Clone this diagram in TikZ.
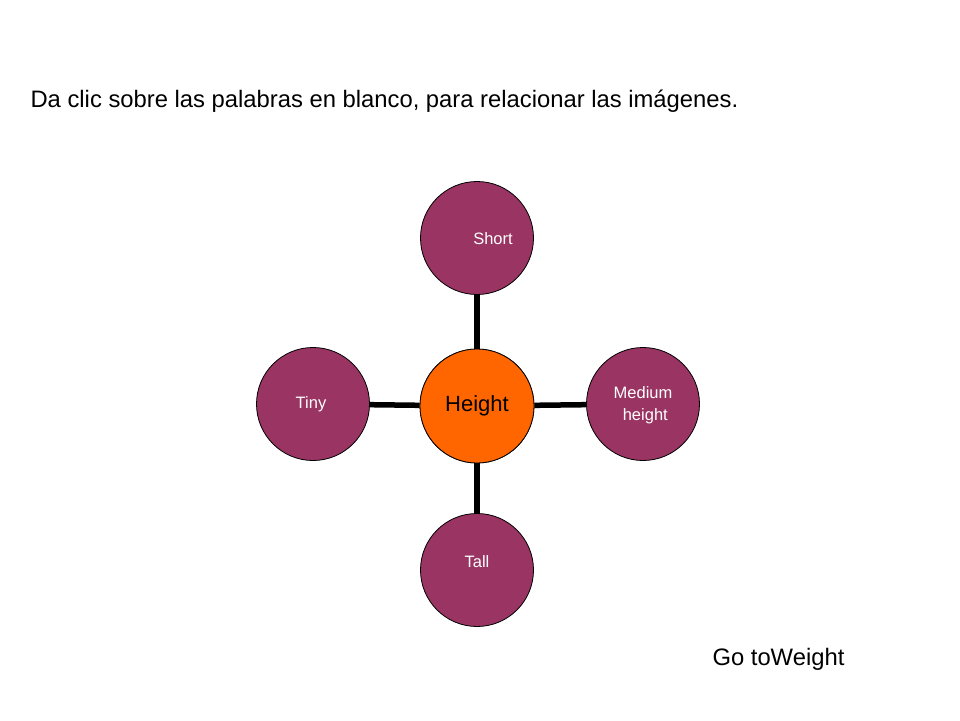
\documentclass[tikz,border=0pt]{standalone}
\usepackage{fontspec}
\setmainfont{Liberation Sans}
\begin{document}
\begin{tikzpicture}[x=1pt,y=-1pt,
  leaf/.style={circle,draw=black,line width=0.8pt,fill=purp,minimum size=113pt,inner sep=0pt},
  hub/.style={circle,draw=black,line width=0.8pt,fill=orng,minimum size=114pt,inner sep=0pt,font=\fontsize{22}{24}\selectfont},
  lbl/.style={text=white,font=\fontsize{16.5}{22}\selectfont,align=center},
  link/.style={line width=5.5pt,black}]
\definecolor{purp}{HTML}{993463}
\definecolor{orng}{HTML}{FF6600}
\useasboundingbox (0,0) rectangle (960,720);
\node[anchor=west,font=\fontsize{23.8}{28}\selectfont] (title) at (27,101) {Da clic sobre las palabras en blanco, para relacionar las imágenes.};
\node[leaf] (short) at (477,238) {};
\node[leaf] (tiny) at (313,404) {};
\node[leaf] (med) at (643,404) {};
\node[leaf] (tall) at (477,570) {};
\node[hub] (hub) at (477,406) {};
\draw[link] (hub) -- (short);
\draw[link] (hub) -- (tiny);
\draw[link] (hub) -- (med);
\draw[link] (hub) -- (tall);
\node[hub] at (hub) {Height};
\node[lbl] (shortt) at (493,239) {Short};
\node[lbl] (tinyt) at (311,404) {Tiny};
\node[lbl] (medt) at (643,405) {Medium\\\ height};
\node[lbl] (tallt) at (477,562) {Tall};
\node[anchor=west,font=\fontsize{23.8}{28}\selectfont] (go) at (709,659) {Go toWeight};
\end{tikzpicture}
\end{document}
